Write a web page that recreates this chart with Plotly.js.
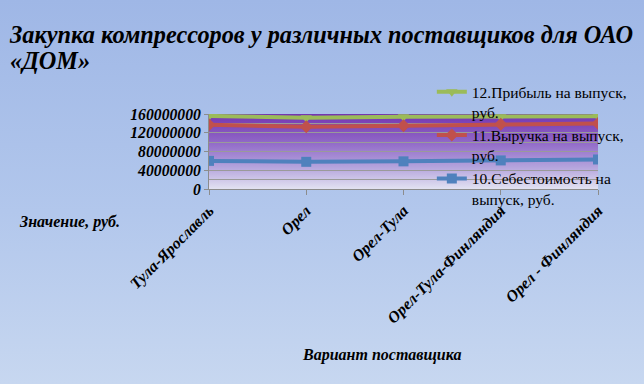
<!DOCTYPE html>
<html><head><meta charset="utf-8">
<script src="https://cdn.plot.ly/plotly-3.0.1.min.js"></script>
<style>
html,body{margin:0;padding:0;}
body{width:644px;height:384px;background:linear-gradient(180deg,#9fb7e6 0%,#b2c7ec 55%,#c7d7f0 100%);}
#chart{width:644px;height:384px;}
</style></head>
<body><div id="chart"></div>
<script>
const categories = ["Тула-Ярославль","Орел","Орел-Тула","Орел-Тула-Финляндия","Орел - Финляндия"];
const profit = [156000000,152000000,154000000,154000000,155000000];
const revenue = [137000000,133000000,135000000,138000000,140000000];
const cost = [60000000,58000000,59000000,61000000,63000000];
const seriesNames = ["12.Прибыль на выпуск,<br>руб.","11.Выручка на выпуск,<br>руб.","10.Себестоимость на<br>выпуск, руб."];
const yTicks = [0,40000000,80000000,120000000,160000000];
const titleLines = ["Закупка компрессоров у различных поставщиков для ОАО","«ДОМ»"];

const FONT = 'Liberation Serif';
const px = v => (v-209)/405;   // helper: page x pixel -> paper
const py = v => (189-v)/74.5;  // helper: page y pixel -> paper

const grad = 'data:image/svg+xml;utf8,' + encodeURIComponent(
 '<svg xmlns="http://www.w3.org/2000/svg" width="100" height="100" preserveAspectRatio="none">'+
 '<defs><linearGradient id="g" x1="0" y1="0" x2="0" y2="1">'+
 '<stop offset="0" stop-color="#7434b0"/><stop offset="0.35" stop-color="#8e64c6"/>'+
 '<stop offset="0.7" stop-color="#b3a2dc"/><stop offset="1" stop-color="#e2e2f2"/>'+
 '</linearGradient></defs><rect width="100" height="100" fill="url(#g)"/></svg>');

const traces = [
 {x:categories,y:profit,name:seriesNames[0],mode:'lines+markers',line:{color:'#9bbb59',width:4},marker:{symbol:'triangle-down',size:10,color:'#9bbb59'}},
 {x:categories,y:revenue,name:seriesNames[1],mode:'lines+markers',line:{color:'#c0504d',width:4},marker:{symbol:'diamond',size:10,color:'#c0504d'}},
 {x:categories,y:cost,name:seriesNames[2],mode:'lines+markers',line:{color:'#4f81bd',width:4},marker:{symbol:'square',size:10,color:'#4f81bd'}}
];

const bi = (size) => ({family:FONT,size:size,color:'#000',weight:'bold',style:'italic'});

const layout = {
 width:644,height:384,
 paper_bgcolor:'rgba(0,0,0,0)',plot_bgcolor:'rgba(0,0,0,0)',
 margin:{l:209,r:30,t:114,b:195,pad:0},
 showlegend:true,
 title:{text:titleLines[0],font:bi(24.3),
   x:10/644,xanchor:'left',xref:'container',y:1-34/384,yanchor:'middle',yref:'container'},
 xaxis:{type:'category',range:[0,4],tickangle:-45,tickfont:bi(16),
   showgrid:false,showline:true,linecolor:'#8c8c8c',linewidth:1,ticks:'outside',ticklen:5,tickcolor:'#8c8c8c',zeroline:false},
 yaxis:{range:[0,160000000],tickvals:yTicks,ticktext:yTicks.map(String),tickfont:bi(15.7),
   showgrid:true,gridcolor:'#9a9a9a',gridwidth:1,showline:true,linecolor:'#8c8c8c',ticks:'outside',ticklen:4,tickcolor:'#8c8c8c',zeroline:false,
   minor:{dtick:20000000,showgrid:true,gridcolor:'#9a9a9a',gridwidth:1}},
 legend:{x:px(441),y:py(76),xanchor:'left',yanchor:'top',bgcolor:'rgba(0,0,0,0)',valign:'top',
   font:{family:FONT,size:15.5,color:'#000'},itemwidth:30},
 images:[{source:grad,xref:'paper',yref:'paper',x:0,y:1,sizex:1,sizey:1,sizing:'stretch',layer:'below'}],
 annotations:[
  {text:titleLines[1],xref:'paper',yref:'paper',x:px(0),y:py(61),xanchor:'left',yanchor:'middle',showarrow:false,font:bi(24.3)},
  {text:'Значение, руб.',xref:'paper',yref:'paper',x:px(9),y:py(222),xanchor:'left',yanchor:'middle',showarrow:false,font:bi(16)},
  {text:'Вариант поставщика',xref:'paper',yref:'paper',x:px(389),y:py(354),xanchor:'center',yanchor:'middle',showarrow:false,font:bi(16)}
 ]
};
Plotly.newPlot('chart',traces,layout,{displayModeBar:false,staticPlot:true});
</script></body></html>
